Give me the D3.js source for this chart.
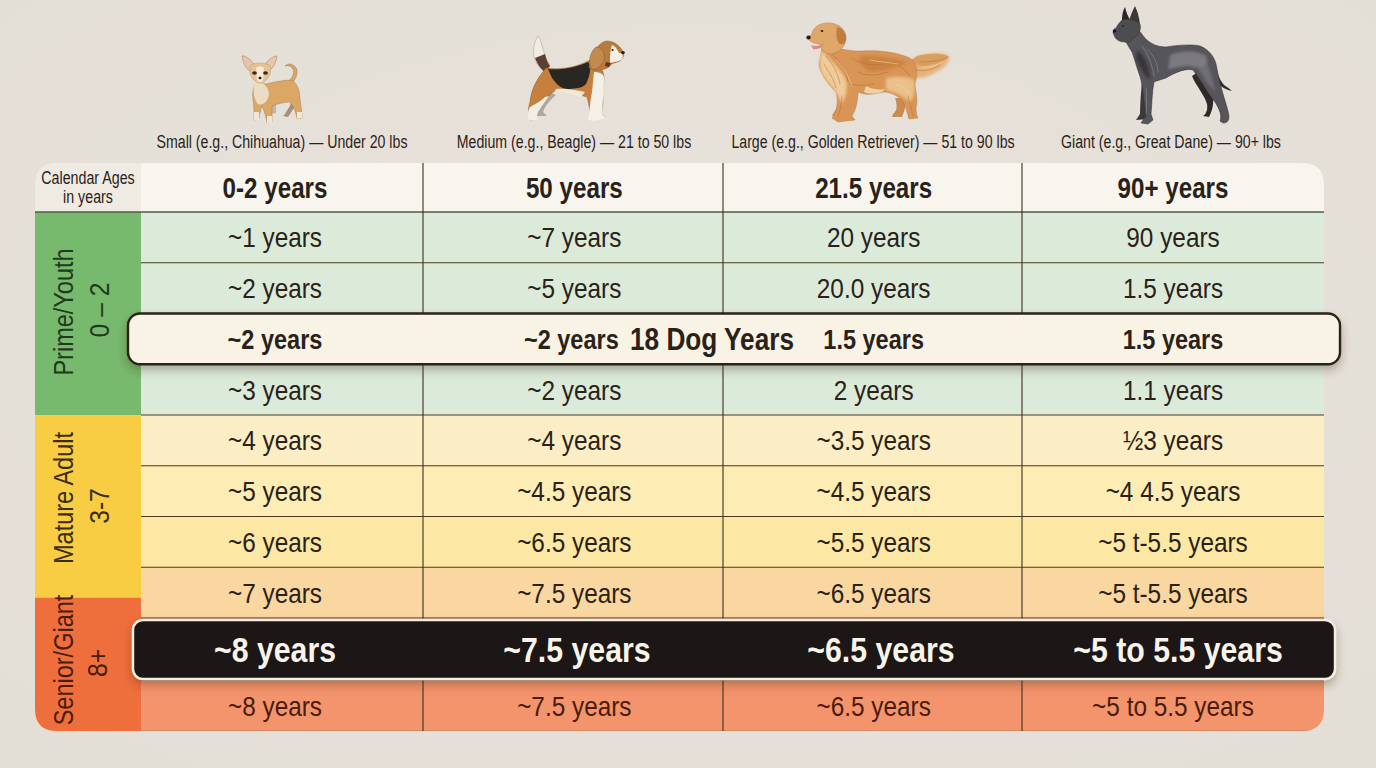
<!DOCTYPE html>
<html><head><meta charset="utf-8">
<style>html,body{margin:0;padding:0;background:#e6e0d8;overflow:hidden}svg{display:block}text{font-family:"Liberation Sans",Arimo,Arial,sans-serif}</style>
<script src="https://cdnjs.cloudflare.com/ajax/libs/d3/7.8.5/d3.min.js"></script>
</head><body><div id="chart"></div>
<script>
// ---- data ----
const sizeLabels=["Small (e.g., Chihuahua) — Under 20 lbs","Medium (e.g., Beagle) — 21 to 50 lbs","Large (e.g., Golden Retriever) — 51 to 90 lbs","Giant (e.g., Great Dane) — 90+ lbs"];
const cornerLabel=["Calendar Ages","in years"];
const headerRow=["0-2 years","50 years","21.5 years","90+ years"];
const smallDogs=["~1 years","~2 years","~2 years","~3 years","~4 years","~5 years","~6 years","~7 years","~8 years","~8 years"];
const mediumDogs=["~7 years","~5 years","~2 years","~2 years","~4 years","~4.5 years","~6.5 years","~7.5 years","~7.5 years","~7.5 years"];
const largeDogs=["20 years","20.0 years","1.5 years","2 years","~3.5 years","~4.5 years","~5.5 years","~6.5 years","~6.5 years","~6.5 years"];
const giantDogs=["90 years","1.5 years","1.5 years","1.1 years","½3 years","~4  4.5 years","~5 t-5.5 years","~5 t-5.5 years","~5 to 5.5 years","~5 to 5.5 years"];
const calloutLabel="18 Dog Years";
const stageNames=["Prime/Youth","Mature Adult","Senior/Giant"];
const stageRanges=["0 – 2","3-7","8+"];
const stageSpans=[[1,5],[5,8.6],[8.6,11]];
const stageColors=["#77b96d","#f8cd44","#ef6f3c"];
const rowColors=["#dcebd9","#dcebd9","#dcebd9","#dcebd9","#fbeec4","#fdedb4","#fce8a4","#fad6a0","#f6a27a","#f4946d"];

// ---- layout ----
const W=1376,H=768;
const rowY=d3.scaleLinear().domain([0,1,9,10,11]).range([163,212,618,680,731]);
const colIdx=d3.range(4);
const colEdge=d3.scaleLinear().domain([0,1,2,3,4]).range([141,423,723,1022,1324]);
const colMid=d3.scalePoint().domain(colIdx).range([275,1173]);
const darkMid=d3.scaleLinear().domain([0,1,2,3]).range([275,577,881,1178]);
const T=35,R=1324,lx=141,TOP=163,BOT=731,RAD=22;
const ink="#2a2219";

const svg=d3.select("#chart").append("svg").attr("width",W).attr("height",H).attr("viewBox",[0,0,W,H]);
const defs=svg.append("defs");
const bg=defs.append("radialGradient").attr("id","bg").attr("cx","50%").attr("cy","45%").attr("r","75%");
bg.append("stop").attr("offset","0%").attr("stop-color","#e8e2da");
bg.append("stop").attr("offset","100%").attr("stop-color","#e4dfd6");
const sh=defs.append("filter").attr("id","sh").attr("x","-5%").attr("y","-40%").attr("width","110%").attr("height","190%");
sh.append("feDropShadow").attr("dx",0).attr("dy",5).attr("stdDeviation",5).attr("flood-color","#3a2a18").attr("flood-opacity",0.33);
const soft=defs.append("filter").attr("id","soft").attr("x","-10%").attr("y","-10%").attr("width","120%").attr("height","120%");
soft.append("feGaussianBlur").attr("stdDeviation",0.35);
const blur=defs.append("filter").attr("id","blur").attr("x","-30%").attr("y","-30%").attr("width","160%").attr("height","160%");
blur.append("feGaussianBlur").attr("stdDeviation",1.4);
defs.append("clipPath").attr("id","tbl").append("path")
  .attr("d",`M${T+RAD},${TOP}H${R-RAD}Q${R},${TOP} ${R},${TOP+RAD}V${BOT-RAD}Q${R},${BOT} ${R-RAD},${BOT}H${T+RAD}Q${T},${BOT} ${T},${BOT-RAD}V${TOP+RAD}Q${T},${TOP} ${T+RAD},${TOP}Z`);

svg.append("rect").attr("width",W).attr("height",H).attr("fill","url(#bg)");

const tbl=svg.append("g").attr("clip-path","url(#tbl)");
tbl.append("rect").attr("x",T).attr("y",TOP).attr("width",lx-T).attr("height",rowY(1)-TOP).attr("fill","#efebe2");
tbl.append("rect").attr("x",lx).attr("y",TOP).attr("width",R-lx).attr("height",rowY(1)-TOP).attr("fill","#f8f5ee");
tbl.selectAll("rect.row").data(rowColors).join("rect").attr("class","row")
  .attr("x",lx).attr("width",R-lx)
  .attr("y",(d,i)=>rowY(i+1)).attr("height",(d,i)=>rowY(i+2)-rowY(i+1)).attr("fill",d=>d);
tbl.selectAll("rect.stage").data(stageSpans).join("rect").attr("class","stage")
  .attr("x",T).attr("width",lx-T)
  .attr("y",d=>rowY(d[0])).attr("height",d=>rowY(d[1])-rowY(d[0])).attr("fill",(d,i)=>stageColors[i]);
const hLines=d3.range(1,12);
tbl.selectAll("line.h").data(hLines).join("line").attr("class","h")
  .attr("x1",d=>d===1?T:lx).attr("x2",R).attr("y1",d=>rowY(d)).attr("y2",d=>rowY(d))
  .attr("stroke",d=>d===1?"#55584a":(d===11?"#b07a5e":"#4a3b22")).attr("stroke-width",d=>d===1?1.6:1.1);
tbl.selectAll("line.v").data([1,2,3]).join("line").attr("class","v")
  .attr("x1",d=>colEdge(d)).attr("x2",d=>colEdge(d)).attr("y1",TOP).attr("y2",BOT)
  .attr("stroke","#3a3020").attr("stroke-width",1.1);

// condensed text: Liberation Sans squeezed horizontally
function label(sel,cls,rows,o){
  return sel.selectAll("text."+cls).data(rows).join("text").attr("class",cls)
    .attr("transform",(d,i)=>`translate(${o.x(d,i)},${o.y(d,i)})${o.rot?" rotate(-90)":""} scale(${o.sx},1)`)
    .attr("text-anchor","middle").attr("font-size",o.size).attr("font-weight",o.bold?700:400)
    .attr("fill",o.fill||ink).text(o.text||(d=>d));
}
label(svg,"size",sizeLabels,{x:(d,i)=>[282,574,873,1171][i],y:()=>147.5,size:19,sx:.745});
label(svg,"corner",cornerLabel,{x:()=>88,y:(d,i)=>184+i*19,size:18.5,sx:.77});
label(svg,"hd",headerRow,{x:(d,i)=>colMid(i),y:()=>198,size:29.5,sx:.82,bold:true});

const columns=[smallDogs,mediumDogs,largeDogs,giantDogs];
const cells=columns.flatMap((c,ci)=>c.map((v,ri)=>({v,ci,ri})));
const normal=cells.filter(d=>d.ri!==2&&d.ri!==8);
label(svg,"cell",normal,{x:d=>colMid(d.ci),y:d=>(rowY(d.ri+1)+rowY(d.ri+2))/2+10,size:28.5,sx:.855,text:d=>d.v})
  .attr("fill",d=>d.ri===9?"#4a1c0c":ink);

const stageInk=["#1f3a1c","#3a2e10","#4a1c0c"];
label(svg,"st1",stageNames,{x:()=>73,y:(d,i)=>[312,498,660][i],rot:true,size:28,sx:.84}).attr("fill",(d,i)=>stageInk[i]);
label(svg,"st2",stageRanges,{x:(d,i)=>[109,109,107][i],y:(d,i)=>[310,506,663][i],rot:true,size:28,sx:.88}).attr("fill",(d,i)=>stageInk[i]);

// highlight: cream
svg.append("rect").attr("x",128).attr("y",rowY(3)).attr("width",1212).attr("height",rowY(4)-rowY(3))
  .attr("rx",12).attr("fill","#f9f3e6").attr("stroke","#2a2118").attr("stroke-width",2.4).attr("filter","url(#sh)");
const creamRow=cells.filter(d=>d.ri===2);
label(svg,"cream",creamRow,{x:d=>colMid(d.ci)-(d.ci===1?3:0),y:()=>349,size:28,sx:.84,bold:true,text:d=>d.v});
label(svg,"call",[calloutLabel],{x:()=>712,y:()=>349.5,size:31,sx:.845,bold:true});

// highlight: dark
svg.append("rect").attr("x",133).attr("y",620).attr("width",1202).attr("height",59)
  .attr("rx",10).attr("fill","#1f1913").attr("stroke","#f5efe2").attr("stroke-width",2.4).attr("filter","url(#sh)");
const darkRow=cells.filter(d=>d.ri===8);
label(svg,"dark",darkRow,{x:d=>darkMid(d.ci),y:()=>662,size:35,sx:.865,bold:true,fill:"#f8f4ea",text:d=>d.v});

// ---- illustrations ----
const art=svg.append("g").attr("filter","url(#soft)");
function p(d,fill,extra){const e=art.append("path").attr("d",d).attr("fill",fill).attr("stroke-linejoin","round");
  if(extra&&extra.s){e.attr("stroke",extra.s).attr("stroke-width",extra.w||0.5)} if(extra&&extra.f){e.attr("filter",extra.f)} if(extra&&extra.o){e.attr("opacity",extra.o)} return e;}
function c(x,y,rx,ry,fill){art.append("ellipse").attr("cx",x).attr("cy",y).attr("rx",rx).attr("ry",ry).attr("fill",fill);}
function fur(d,col,w){art.append("path").attr("d",d).attr("fill","none").attr("stroke",col).attr("stroke-width",w||.6).attr("stroke-linecap","round").attr("opacity",.75);}

// Chihuahua
p("M292,99 C291,106 287,110 285,114 L283,116 L288,117 C292,111 296,105 298,100 Z","#a58f7d");
p("M264,100 C266,106 268,110 271,114 L276,113 C276,109 276,104 276,100 Z","#c8b7a0");
p("M293,82 C298,76 299,68 293,65 C291,64 288,63 285,66 C288,65 291,66 293,69 C295,73 292,78 289,81 Z","#d8a768",{s:"#8d6a3f",w:.4});
p("M266,84 C274,82 284,80 292,80 C298,84 300,92 300,99 C301,106 302,113 302,118 L297,119 C296,111 293,106 290,102 C284,102 277,104 272,106 C272,112 272,118 272,122 L267,123 C266,116 264,110 262,106 C261,110 259,114 259,119 L254,120 C254,113 254,105 253,99 C252,93 253,87 256,83 Z","#dca766",{s:"#8f6e45",w:.4});
p("M255,82 C262,81 268,86 269,94 C268,102 262,106 258,104 C254,100 252,90 255,82Z","#ecdcc6");
p("M254,112 L259,112 L259,120 L254,120Z M267,116 L272,116 L272,123 L267,123Z M297,112 L302,112 L302,118 L297,119Z","#f1e6d6");
p("M242,56 C245,55 252,60 255,66 L250,71 C245,68 243,62 242,56Z","#e8c4aa",{s:"#9a7a5e",w:.5});
p("M277,56 C274,56 268,59 265,65 L270,70 C274,67 276,62 277,56Z","#e8c4aa",{s:"#9a7a5e",w:.5});
p("M250,66 C254,62 266,62 270,66 C272,72 269,78 265,81 C262,84 258,84 255,81 C251,78 249,72 250,66Z","#e5c493",{s:"#9a7a5e",w:.3});
p("M256,68 C258,66 262,66 264,68 L263,80 C262,83 258,83 257,80Z","#f4e9d8");
c(254.5,73,2.4,1.7,"#4b2313");c(265.5,73,2.4,1.7,"#4b2313");c(260,78,1.5,1.2,"#1b1410");

// Beagle
p("M545,90 C540,98 535,106 538,114 L536,116 L547,116 L543,112 C545,106 550,100 556,95Z","#aea79e");
p("M589,92 L603,92 C604,100 604,108 602,113 L606,117 L597,117 L596,112 C595,106 590,100 589,92Z","#c5beb2");
p("M538,36 C534,42 532,52 535,60 C538,66 542,70 545,72 L550,66 C546,60 544,52 542,46 C541,42 540,38 538,36Z","#f2ede3",{s:"#8f8778",w:.4});
p("M535,58 C538,66 542,70 545,72 L550,66 C547,62 546,58 545,54 Z","#5b4130");
p("M546,68 C560,70 575,68 590,60 C598,60 604,70 604,78 C604,85 602,92 602,100 C602,108 601,114 600,118 L592,120 C590,112 589,104 587,97 C578,94 566,92 556,90 C550,94 545,100 541,106 C538,110 536,114 536,119 L530,120 C528,113 528,108 530,102 C531,92 534,82 546,68Z","#c67f3e",{s:"#7b5230",w:.4});
p("M548,69 C558,70 572,69 588,62 C592,66 590,76 586,84 C582,89 575,88 570,89 C562,90 556,84 552,78Z","#2c2620");
p("M594,72 C600,72 605,74 604,80 C604,92 602,104 602,114 L606,118 L594,121 L588,120 C590,112 590,100 592,92Z","#f5f0e6");
p("M530,107 C536,104 542,100 545,97 L549,96 C545,102 540,108 537,114 L537,120 L529,120 C527,115 528,111 530,107Z","#f3eee4");
p("M555,91 C562,92 570,94 581,97 L585,92 C575,90 565,88 556,89Z","#efe8d9");
p("M589,68 C590,58 597,42 607,41 C614,41 620,46 622,50 C625,53 624,57 621,60 C618,63 612,62 610,66 C606,70 596,72 589,68Z","#b97a3c",{s:"#7b5230",w:.4});
p("M612,45 C615,46 618,50 619,53 C622,53 624,55 622,59 C619,62 613,62 610,63 C610,58 610,50 612,45Z","#f5f0e6");
p("M596,47 C590,52 588,62 591,68 C594,72 601,67 604,60 C605,54 603,47 596,47Z","#c48a4e",{s:"#7d5a38",w:.5});
c(623,52.5,1.8,1.6,"#232021");c(612.5,50,1.1,1.1,"#2a1a10");
p("M606,62 L611,63 L609,67 L605,66Z","#6b2e20");

// Golden Retriever
p("M917,57 C930,52 944,52 950,57 C948,66 938,72 928,76 C920,80 914,78 908,72 C908,66 912,60 917,57Z","#e6b27c",{f:"url(#blur)"});
p("M917,56 C930,53 944,53 949,57 C944,62 934,64 926,66 C920,67 914,64 911,60Z","#d99a5a",{o:.9});
p("M895,98 C897,104 898,110 893,114 L892,117 L902,117 C905,110 906,104 906,98Z","#c98a52");
p("M842,90 C840,100 838,108 832,115 L837,121 L848,118 C850,110 854,100 856,92Z","#cf985f");
p("M822,48 C836,46 848,52 862,51 C880,50 896,52 910,58 C918,64 918,74 915,84 C916,92 918,100 916,108 C916,113 917,116 918,118 L909,119 C907,112 906,106 902,100 C898,96 890,92 884,92 C874,94 866,96 858,92 C858,100 856,110 852,116 L855,120 L838,122 L832,118 C838,110 838,100 836,92 C828,84 820,74 819,64Z","#d99555",{s:"#a8713f",w:.4});
p("M822,50 C830,60 840,68 846,80 C848,88 846,96 842,104 C838,92 828,84 822,74 C819,66 819,56 822,50Z","#f0cb9a",{f:"url(#blur)"});
p("M860,56 C875,55 895,58 908,62 C900,68 885,70 872,72 C864,70 858,64 860,56Z","#c67c3a",{o:.7,f:"url(#blur)"});
p("M886,78 C896,76 906,76 914,80 C916,90 914,98 910,102 C904,96 894,92 886,90Z","#ecc592",{o:.9,f:"url(#blur)"});
p("M866,86 C874,90 880,90 885,89 L882,92 C876,94 868,94 864,92Z","#f0d0a4");
["M826,56 C832,64 838,72 840,84","M832,54 C840,62 846,70 848,82","M824,64 C828,72 834,78 836,88","M852,58 C860,64 870,66 884,64","M858,72 C866,76 876,76 888,72","M850,84 C858,86 866,86 874,84","M894,62 C900,66 906,70 910,76","M920,62 C930,62 938,61 946,58","M916,70 C924,72 932,70 940,65","M842,96 C842,104 840,110 838,116","M908,96 C910,104 912,110 913,116"].forEach(d=>fur(d,"#a96a30",.6));
["M836,60 C842,66 848,74 852,86","M870,60 C878,62 888,62 898,64","M896,84 C902,86 906,90 910,94","M922,67 C930,68 936,66 942,62"].forEach(d=>fur(d,"#f5dcb4",.7));
p("M812,34 C812,28 820,22 830,23 C840,24 846,30 846,38 C846,46 840,52 832,54 C824,54 820,48 820,44 C816,44 808,42 808,37Z","#e0a868",{s:"#a8713f",w:.4});
p("M837,27 C843,28 847,34 846,40 C845,45 840,46 838,42 C836,38 836,32 837,27Z","#bf7e3f");
p("M811,45 C815,47 820,46 824,43 C823,47 818,50 813,49Z","#d98b86");
c(808.5,37.5,2.2,2,"#221814");c(822,31,1.4,1.1,"#3a2312");

// Great Dane
p("M1192,76 C1196,86 1204,94 1207,104 C1208,110 1206,114 1203,116 L1209,117 C1214,108 1214,98 1212,92 C1207,86 1202,78 1198,72Z","#2d2b2c");
p("M1142,82 L1150,84 C1148,94 1147,104 1146,113 L1149,119 L1136,120 L1140,114 C1140,104 1141,92 1142,82Z","#3a3839");
p("M1214,64 C1216,72 1220,80 1224,85 C1227,87 1230,89 1232,91 C1227,90 1221,87 1217,83 C1213,78 1211,72 1210,66Z","#2e2c2d");
p("M1132,22 C1136,28 1141,32 1144,37 C1150,44 1158,47 1166,47 C1178,45 1192,44 1200,46 C1208,49 1214,56 1216,64 C1218,74 1220,84 1223,94 C1226,104 1228,110 1229,116 C1229,120 1228,123 1223,123 L1220,121 C1222,116 1220,110 1215,102 C1208,94 1202,82 1193,70 C1186,68 1176,72 1166,78 C1160,80 1156,81 1154,82 C1152,92 1152,104 1151,114 L1153,120 L1148,124 L1141,123 L1146,116 C1144,104 1143,90 1141,80 C1138,72 1135,60 1132,52 C1128,46 1126,42 1124,38Z","#55545a",{s:"#2e2c2e",w:.5});
p("M1170,55 C1182,50 1196,50 1206,56 C1210,66 1200,70 1190,66 C1182,66 1172,68 1168,70Z","#8d8b8e",{o:.7,f:"url(#blur)"});
p("M1204,58 C1210,66 1212,78 1216,92 C1210,88 1202,76 1198,68Z","#828084",{o:.6,f:"url(#blur)"});
p("M1138,50 C1144,56 1150,66 1150,80 C1146,78 1140,68 1136,58Z","#2f2d30",{o:.8,f:"url(#blur)"});
p("M1135,66 C1137,70 1139,75 1140,79 C1138,77 1136,72 1134,68Z","#e9e6e0");
["M1142,46 C1148,54 1152,64 1154,76","M1148,50 C1154,56 1158,64 1158,72","M1146,88 C1147,98 1147,106 1146,114"].forEach(d=>fur(d,"#a3a1a5",.6));
p("M1125,7 C1122,12 1122,18 1122,22 L1130,20 C1128,16 1126,12 1125,7Z","#2a2829");
p("M1135,6 C1133,10 1130,16 1129,22 L1140,24 C1139,16 1137,10 1135,6Z","#3a3839");
p("M1122,20 C1128,18 1136,20 1140,24 C1142,30 1138,36 1133,38 C1131,42 1128,43 1124,42 C1119,42 1115,39 1114,35 C1112,32 1113,29 1116,28 C1118,24 1120,22 1122,20Z","#4e4d50",{s:"#2e2c2e",w:.4});
c(1114.5,31,1.6,1.5,"#121112");c(1123,26,1,.8,"#151415");
</script></body></html>
